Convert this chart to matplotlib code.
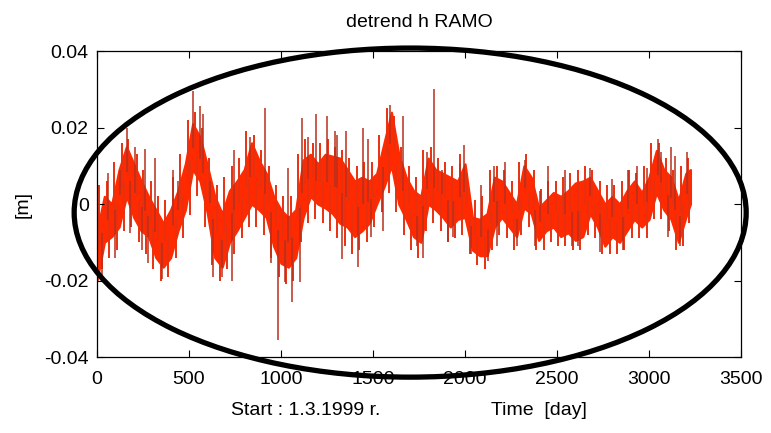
import matplotlib
matplotlib.use('Agg')
from matplotlib import pyplot as plt
from matplotlib.patches import Ellipse
import numpy as np

# detrended height of RAMO, band envelope sampled every 40 days [cm]
days = [0, 40, 80, 120, 160, 200, 240, 280, 320, 360, 400, 440, 480, 520,
        560, 600, 640, 680, 720, 760, 800, 840, 880, 920, 960, 1000, 1040,
        1080, 1120, 1160, 1200, 1240, 1280, 1320, 1360, 1400, 1440, 1480,
        1520, 1560, 1600, 1640, 1680, 1720, 1760, 1800, 1840, 1880, 1920,
        1960, 2000, 2040, 2080, 2120, 2160, 2200, 2240, 2280, 2320, 2360,
        2400, 2440, 2480, 2520, 2560, 2600, 2640, 2680, 2720, 2760, 2800,
        2840, 2880, 2920, 2960, 3000, 3040, 3080, 3120, 3160, 3200, 3225]
upper_cm = [-0.7, 0.2, 0.0, 0.9, 1.5, 1.05, 0.6, 0.2, -0.15, -0.5, -0.15,
            0.35, 1.05, 2.1, 1.75, 1.0, 0.2, -0.25, 0.35, 0.6, 0.9, 1.6,
            1.15, 0.8, 0.2, -0.15, -0.35, -0.15, 1.15, 1.3, 1.05, 1.3, 1.25,
            1.2, 0.9, 0.6, 0.7, 0.6, 0.8, 1.6, 2.4, 1.3, 0.7, 0.35, 0.2, 1.2,
            0.9, 0.8, 0.7, 0.6, 1.05, -0.35, -0.4, -0.25, 0.7, 0.6, 0.3, 0.0,
            1.0, 0.7, -0.1, 0.1, 0.3, 0.2, 0.35, 0.55, 0.6, 0.7, 0.35, 0.0,
            0.2, 0.0, 0.35, 0.6, 0.3, 0.7, 1.4, 0.9, 0.7, 0.1, 0.8, 0.9]
lower_cm = [-2.0, -1.0, -0.85, -0.6, 0.2, -0.35, -0.7, -0.85, -1.4, -1.65,
            -1.4, -0.7, -0.15, 0.9, 0.6, -0.25, -1.4, -1.65, -1.0, -0.7,
            -0.35, 0.0, -0.15, -0.35, -1.1, -1.55, -1.65, -1.4, -0.35, 0.2,
            0.0, -0.1, -0.25, -0.5, -0.6, -0.85, -0.7, -0.5, 0.0, 0.45, 1.0,
            0.0, -0.4, -0.85, -1.0, 0.0, -0.15, -0.35, -0.6, -0.4, -0.35,
            -1.2, -1.35, -1.35, -0.6, -0.35, -0.6, -0.85, -0.1, -0.25, -0.95,
            -0.7, -0.6, -0.85, -0.75, -0.95, -0.85, -0.25, -0.6, -1.1, -0.85,
            -1.0, -0.7, -0.4, -0.6, -0.4, 0.3, -0.15, -0.4, -1.0, -0.35, 0.0]

# short daily excursions just outside the band [day, cm]
jitter_up_days = [12, 55, 91, 134, 170, 215, 251, 292, 334, 372, 411, 452,
                  494, 531, 573, 610, 654, 691, 733, 771, 812, 853, 893, 934,
                  972, 1011, 1052, 1094, 1131, 1172, 1213, 1254, 1292, 1333,
                  1371, 1414, 1452, 1493, 1531, 1574, 1612, 1651, 1694, 1732,
                  1773, 1814, 1851, 1893, 1932, 1971, 2012, 2053, 2091, 2134,
                  2172, 2211, 2253, 2292, 2333, 2374, 2412, 2451, 2493, 2532,
                  2571, 2613, 2651, 2692, 2734, 2771, 2812, 2853, 2891, 2932,
                  2974, 3011, 3053, 3092, 3131, 3172, 3213]
jitter_up_cm = [0.5, 0.6, 1.1, 1.6, 1.7, 1.3, 0.9, 0.6, 0.2, 0.1, 0.7, 1.3,
                2.2, 2.4, 2.0, 1.2, 0.5, 0.7, 1.0, 1.2, 1.9, 1.8, 1.4, 1.0,
                0.5, 0.2, 0.2, 1.3, 1.7, 1.6, 1.6, 1.7, 1.5, 1.4, 1.2, 1.0,
                1.1, 1.1, 1.8, 2.5, 2.3, 1.5, 1.0, 0.7, 1.4, 1.5, 1.2, 1.1,
                1.0, 1.3, 0.8, 0.1, 0.2, 0.9, 1.0, 0.9, 0.6, 1.1, 1.3, 0.9,
                0.4, 0.6, 0.6, 0.7, 0.8, 0.9, 1.0, 0.9, 0.6, 0.5, 0.5, 0.6,
                0.9, 0.8, 1.0, 1.6, 1.6, 1.2, 0.9, 1.0, 1.2]
jitter_dn_days = [27, 66, 107, 146, 187, 226, 267, 306, 347, 386, 427, 466,
                  507, 546, 587, 626, 667, 706, 747, 786, 827, 866, 907, 946,
                  987, 1026, 1067, 1106, 1147, 1186, 1227, 1266, 1307, 1346,
                  1387, 1426, 1467, 1506, 1547, 1586, 1627, 1666, 1707, 1746,
                  1787, 1826, 1867, 1906, 1947, 1986, 2027, 2066, 2107, 2146,
                  2187, 2226, 2267, 2306, 2347, 2386, 2427, 2466, 2507, 2546,
                  2587, 2626, 2667, 2706, 2747, 2786, 2827, 2866, 2907, 2946,
                  2987, 3026, 3067, 3106, 3147, 3186, 3220]
jitter_dn_cm = [-1.7, -1.4, -1.2, -0.7, -0.6, -1.0, -1.3, -1.7, -2.0, -1.9,
                -1.4, -0.9, -0.3, 0.2, -0.6, -1.6, -2.0, -1.7, -1.3, -0.9,
                -0.6, -0.6, -0.8, -1.4, -1.9, -2.1, -2.0, -1.0, -0.5, -0.4,
                -0.5, -0.7, -0.9, -1.1, -1.3, -1.2, -1.0, -0.6, -0.2, 0.3,
                -0.2, -0.8, -1.2, -1.4, -0.7, -0.5, -0.7, -1.0, -0.9, -0.8,
                -1.3, -1.6, -1.7, -1.2, -0.8, -0.9, -1.2, -0.8, -0.6, -1.2,
                -1.2, -1.0, -1.1, -1.1, -1.2, -1.2, -0.8, -0.9, -1.3, -1.3,
                -1.3, -1.2, -0.9, -0.9, -0.9, -0.4, -0.4, -0.7, -1.2, -1.1,
                -0.5]

# single-day outliers reaching well past the band [day, cm]
spike_days = [25, 58, 98, 125, 161, 179, 206, 243, 261, 279, 315, 351, 415,
              442, 523, 560, 578, 614, 632, 678, 732, 746, 832, 913, 946, 982,
              1022, 1040, 1058, 1103, 1116, 1149, 1188, 1248, 1293, 1303,
              1330, 1351, 1417, 1448, 1475, 1489, 1556, 1592, 1665, 1737,
              1774, 1792, 1830, 1873, 1909, 1936, 1973, 1996, 2033, 2087,
              2127, 2160, 2172, 2218, 2281, 2326, 2380, 2408, 2453, 2543,
              2580, 2616, 2679, 2734, 2797, 2861, 2888, 2934, 2988, 3047,
              3065, 3105, 3120, 3141, 3168, 3205]
spike_cm = [-2.0, 0.8, -1.4, 0.9, 2.0, -0.75, 1.5, -1.2, 1.45, -1.55, 1.2,
            -1.95, 0.9, 0.6, 2.95, 2.55, 2.35, 0.6, -1.9, -1.9, -2.0, 1.4,
            1.75, 2.5, -1.55, -3.55, -2.05, 0.95, -2.55, -2.05, 2.25, 1.75,
            2.35, 2.3, 1.9, 1.8, -1.45, 1.9, -1.65, 2.0, 1.7, -0.85, -0.7,
            2.6, 2.3, -1.1, -1.4, 1.35, 3.0, 0.9, -1.0, -0.85, 1.05, 1.55,
            -1.3, 0.5, -1.5, 1.0, -1.1, 1.1, -1.1, 1.15, -1.1, 0.35, 1.0,
            0.9, -1.1, -1.1, 0.95, -1.25, 0.65, -1.2, 0.9, 1.0, 0.95, 1.7,
            1.35, -0.85, 1.5, 1.25, -1.1, 1.35]

x_ticks = [0, 500, 1000, 1500, 2000, 2500, 3000, 3500]
y_ticks = [-0.04, -0.02, 0, 0.02, 0.04]
y_tick_labels = ['-0.04', '-0.02', '0', '0.02', '0.04']

plt.rcParams['font.family'] = ['Liberation Sans', 'DejaVu Sans']

fig = plt.figure(figsize=(7.71, 4.33), dpi=100)
ax = fig.add_axes([0.1258, 0.1755, 0.8353, 0.7067])

d = np.array(days)
up = np.array(upper_cm) / 100.0
lo = np.array(lower_cm) / 100.0
ax.fill_between(d, lo, up, color='#ff2a00', lw=1.6, edgecolor='#ff2a00')


def sticks(xs, vals, color, lw):
    # vertical strokes from the middle of the band out to each value
    xs = np.array(xs)
    vs = np.array(vals) / 100.0
    mid = np.interp(xs, d, (up + lo) / 2)
    ax.vlines(xs, mid, vs, color=color, lw=lw)


sticks(jitter_up_days, jitter_up_cm, '#e8300f', 1.4)
sticks(jitter_dn_days, jitter_dn_cm, '#e8300f', 1.4)
sticks(spike_days, spike_cm, '#b8301e', 1.1)

ax.set_xlim(0, 3500)
ax.set_ylim(-0.04, 0.04)
ax.set_xticks(x_ticks)
ax.set_yticks(y_ticks)
ax.set_yticklabels(y_tick_labels)
ax.tick_params(direction='in', length=5, width=0.8, top=True, right=True,
               labelsize=14, colors='black')
ax.tick_params(axis='y', pad=6)
ax.tick_params(axis='x', pad=10)
for s in ax.spines.values():
    s.set_linewidth(0.9)

ax.set_title('detrend h RAMO', fontsize=14, pad=17)
ax.set_ylabel('[m]', fontsize=14, labelpad=9)
fig.text(0.397, 0.053, 'Start : 1.3.1999 r.', fontsize=14, ha='center',
         va='center')
fig.text(0.699, 0.053, 'Time  [day]', fontsize=14, ha='center', va='center')

ring = Ellipse((0.532, 0.509), 0.8716, 0.760, transform=fig.transFigure,
               fill=False, edgecolor='black', lw=3.8, zorder=10)
fig.add_artist(ring)

fig.savefig('out.png', dpi=100)
